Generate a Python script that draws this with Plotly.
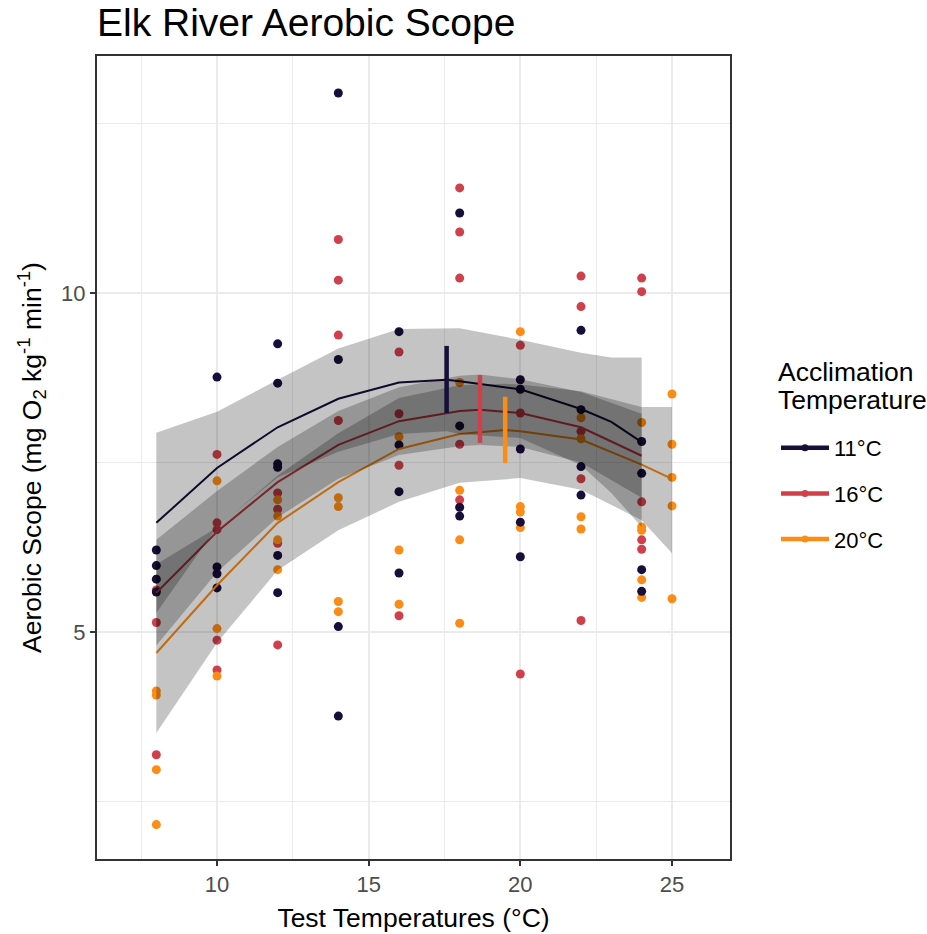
import plotly.graph_objects as go

# ---------------- data ----------------
series = ["11°C", "16°C", "20°C"]
colors = {"11°C": "#170E3A", "16°C": "#D0404B", "20°C": "#FC8C16"}

# observed points (test temperature, aerobic scope)
pts_x = {
    "11°C": [8, 8, 8, 8, 10, 10, 10, 10, 12, 12, 12, 12, 12, 12, 14, 14, 14, 14,
             16, 16, 16, 16, 18, 18, 18, 18, 20, 20, 20, 20, 20, 22, 22, 22, 22,
             24, 24, 24, 24],
    "16°C": [8, 8, 8, 10, 10, 10, 10, 10, 12, 12, 12, 12, 14, 14, 14, 14,
             16, 16, 16, 16, 18, 18, 18, 18, 18, 20, 20, 20, 22, 22, 22, 22, 22,
             24, 24, 24, 24, 24],
    "20°C": [8, 8, 8, 8, 10, 10, 10, 12, 12, 12, 12, 14, 14, 14, 14,
             16, 16, 16, 18, 18, 18, 18, 20, 20, 20, 20, 22, 22, 22, 22,
             24, 24, 24, 24, 24, 25, 25, 25, 25, 25],
}
pts_y = {
    "11°C": [6.21, 5.98, 5.78, 5.59, 8.76, 5.96, 5.86, 5.65, 9.25, 8.67, 7.48, 7.43, 6.13, 5.58,
             12.95, 9.02, 5.08, 3.76, 9.43, 7.76, 7.07, 5.87, 11.18, 8.04, 6.84, 6.71,
             8.72, 8.58, 7.70, 6.62, 6.11, 9.45, 8.28, 7.44, 7.02, 7.81, 7.34, 5.92, 5.60],
    "16°C": [5.62, 5.14, 3.19, 7.62, 6.61, 6.51, 4.88, 4.44, 7.05, 6.81, 6.31, 4.81,
             10.79, 10.19, 9.38, 8.12, 9.13, 8.22, 7.46, 5.24, 11.55, 10.90, 10.22, 7.77, 6.95,
             9.23, 8.23, 4.38, 10.25, 9.80, 7.96, 7.26, 5.17, 10.22, 10.02, 6.92, 6.36, 6.22],
    "20°C": [4.13, 4.07, 2.97, 2.16, 7.23, 5.05, 4.35, 6.95, 6.71, 6.36, 5.92,
             6.98, 6.85, 5.45, 5.30, 7.88, 6.21, 5.41, 8.68, 7.09, 6.36, 5.13,
             9.43, 6.85, 6.77, 6.54, 8.16, 7.85, 6.70, 6.52, 8.09, 6.55, 6.50, 5.77, 5.51,
             8.51, 7.77, 7.28, 6.86, 5.49],
}

# fitted curves with confidence ribbons
fit_x = {
    "11°C": [8, 10, 12, 14, 16, 17.57, 18, 20, 22, 23, 24],
    "16°C": [8, 10, 12, 14, 16, 18, 18.67, 20, 22, 24],
    "20°C": [8, 10, 12, 14, 16, 18, 19.5, 20, 22, 24, 25],
}
fit_y = {
    "11°C": [6.61, 7.42, 8.02, 8.44, 8.68, 8.72, 8.70, 8.58, 8.29, 8.10, 7.80],
    "16°C": [5.58, 6.48, 7.21, 7.76, 8.11, 8.26, 8.28, 8.23, 8.02, 7.60],
    "20°C": [4.69, 5.69, 6.61, 7.21, 7.70, 7.92, 7.98, 7.96, 7.84, 7.47, 7.26],
}
fit_hi = {
    "11°C": [7.94, 8.25, 8.72, 9.18, 9.47, 9.48, 9.48, 9.31, 9.12, 9.05, 9.05],
    "16°C": [6.36, 7.08, 7.73, 8.26, 8.61, 8.78, 8.80, 8.73, 8.54, 8.22],
    "20°C": [6.00, 6.54, 7.31, 7.93, 8.45, 8.64, 8.66, 8.65, 8.55, 8.32, 8.32],
}
fit_lo = {
    "11°C": [5.28, 6.55, 7.28, 7.66, 7.92, 7.96, 7.92, 7.86, 7.46, 7.05, 6.55],
    "16°C": [4.80, 5.88, 6.69, 7.26, 7.61, 7.74, 7.76, 7.73, 7.50, 6.98],
    "20°C": [3.51, 4.84, 5.91, 6.50, 6.92, 7.20, 7.25, 7.27, 7.10, 6.65, 6.16],
}

# optimum temperature markers (vertical bars)
topt_x = [17.57, 18.67, 19.5]
topt_lo = [8.23, 7.79, 7.49]
topt_hi = [9.22, 8.79, 8.47]

legend_title_lines = ["Acclimation", "Temperature"]

# ---------------- figure ----------------
fig = go.Figure()
FONT = "Liberation Sans, Arial, sans-serif"

# points (red, orange, navy order so navy on top)
for s in ["16°C", "20°C", "11°C"]:
    fig.add_trace(go.Scatter(x=pts_x[s], y=pts_y[s], mode="markers",
                             marker=dict(color=colors[s], size=9, line=dict(width=0)),
                             showlegend=False, hoverinfo="skip"))
# fitted lines
for s in series:
    fig.add_trace(go.Scatter(x=fit_x[s], y=fit_y[s], mode="lines",
                             line=dict(color=colors[s], width=2),
                             showlegend=False, hoverinfo="skip"))
# ribbons on top
for s in series:
    xs = fit_x[s] + fit_x[s][::-1]
    ys = fit_hi[s] + fit_lo[s][::-1]
    fig.add_trace(go.Scatter(x=xs, y=ys, mode="lines", fill="toself",
                             fillcolor="rgba(0,0,0,0.23)", line=dict(width=0),
                             showlegend=False, hoverinfo="skip"))
# optimum bars
for i, s in enumerate(series):
    fig.add_trace(go.Scatter(x=[topt_x[i], topt_x[i]], y=[topt_lo[i], topt_hi[i]],
                             mode="lines", line=dict(color=colors[s], width=4.5),
                             showlegend=False, hoverinfo="skip"))
# legend entries
for s in series:
    fig.add_trace(go.Scatter(x=[None], y=[None], mode="lines+markers", name=s,
                             legendgroup=s,
                             line=dict(color=colors[s], width=4.5),
                             marker=dict(color=colors[s], size=7)))

axis_common = dict(
    showline=True, linecolor="#333333", linewidth=2, mirror=True,
    ticks="outside", ticklen=5, tickwidth=2, tickcolor="#333333",
    showgrid=True, gridcolor="#EBEBEB", gridwidth=2, zeroline=False,
    automargin=False,
    tickfont=dict(family=FONT, size=22, color="#4D4D4D"),
)

fig.update_xaxes(range=[6.044, 26.912], tick0=0, dtick=5,
                 minor=dict(dtick=2.5, tick0=0, showgrid=True, gridcolor="#EBEBEB", gridwidth=1),
                 title=dict(text="Test Temperatures (°C)", font=dict(family=FONT, size=26.5, color="black"),
                            standoff=12),
                 **axis_common)
fig.update_yaxes(range=[1.652, 13.496], tick0=0, dtick=5,
                 minor=dict(dtick=2.5, tick0=0, showgrid=True, gridcolor="#EBEBEB", gridwidth=1),
                 title=dict(text="Aerobic Scope (mg O<sub>2</sub> kg<sup>-1</sup> min<sup>-1</sup>)",
                            font=dict(family=FONT, size=26.5, color="black"), standoff=12),
                 **axis_common)

# legend title as two text lines (tighter line spacing like the reference)
for txt, ypx in zip(legend_title_lines, [372, 400]):
    fig.add_annotation(text=txt, xref="paper", yref="paper",
                       x=(776 - 97) / 633, y=(859 - ypx) / 803,
                       xanchor="left", yanchor="middle", showarrow=False,
                       font=dict(family=FONT, size=26.5, color="black"))

fig.update_layout(
    width=927, height=934,
    margin=dict(l=97, r=197, t=56, b=75, autoexpand=False),
    plot_bgcolor="white", paper_bgcolor="white",
    title=dict(text="Elk River Aerobic Scope", font=dict(family=FONT, size=39, color="black"),
               xref="paper", x=0, xanchor="left", yref="container", y=1 - 22 / 934, yanchor="middle"),
    legend=dict(xref="container", x=776 / 927, xanchor="left", yref="paper", y=0.538, yanchor="top",
                font=dict(family=FONT, size=22, color="black"),
                itemwidth=48, tracegroupgap=14, bgcolor="rgba(0,0,0,0)"),
    showlegend=True,
)

fig.write_html("out.html")
